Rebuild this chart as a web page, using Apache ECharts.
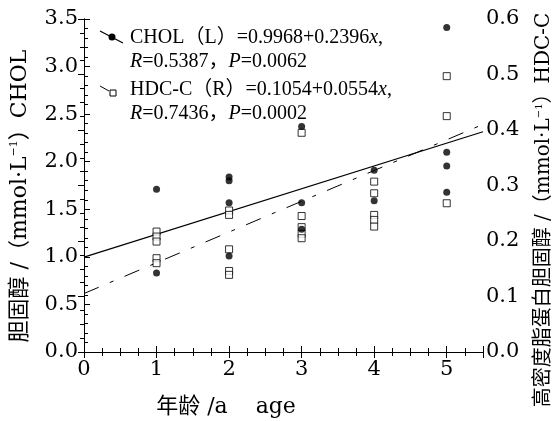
<!DOCTYPE html>
<html>
<head>
<meta charset="utf-8">
<script src="https://cdn.jsdelivr.net/npm/echarts@6/dist/echarts.min.js"></script>
<style>
  html, body { margin: 0; padding: 0; background: #fff; }
  #chart { width: 557px; height: 421px; }
</style>
</head>
<body>
<div id="chart"></div>
<script>
var serif = '"Liberation Serif", "Noto Sans CJK SC", serif';
var wide = '"DejaVu Serif", "Noto Sans CJK SC", serif';

// CHOL (left axis) - filled dots
var cholAge = [1, 1, 2, 2, 2, 2, 3, 3, 3, 4, 4, 5, 5, 5, 5];
var cholVal = [1.71, 0.83, 1.84, 1.80, 1.57, 1.01, 2.37, 1.57, 1.29, 1.91, 1.59, 3.41, 2.10, 1.955, 1.68];

// HDC-C (right axis) - open squares
var hdcAge = [1, 1, 1, 1, 1, 2, 2, 2, 2, 2, 3, 3, 3, 3, 3, 4, 4, 4, 4, 4, 5, 5, 5];
var hdcVal = [0.217, 0.208, 0.199, 0.169, 0.160,
              0.255, 0.247, 0.185, 0.146, 0.139,
              0.395, 0.245, 0.225, 0.213, 0.205,
              0.307, 0.286, 0.247, 0.238, 0.226,
              0.497, 0.425, 0.268];

// regression lines: y = a + b*x
var fitX = [0, 5.5];
var cholFit = [0.9968, 0.2396];
var hdcFit = [0.1054, 0.0554];

var xTicks = [0, 1, 2, 3, 4, 5];

function pairs(xs, ys) {
    var out = [];
    for (var i = 0; i < xs.length; i++) out.push([xs[i], ys[i]]);
    return out;
}
function fitLine(c) {
    return fitX.map(function (x) { return [x, c[0] + c[1] * x]; });
}

var axisCommon = {
    axisLine: { lineStyle: { color: '#000', width: 1 } },
    axisTick: { inside: true, length: 6, lineStyle: { color: '#000' } },
    minorTick: { show: true, length: 4, lineStyle: { color: '#000' } },
    splitLine: { show: false },
    axisLabel: { color: '#000', fontFamily: wide, fontSize: 21 }
};

function xAxisDef(pos, showLabel) {
    return Object.assign({}, axisCommon, {
        type: 'value', position: pos, min: 0, max: 5.5, interval: 1,
        minorTick: Object.assign({}, axisCommon.minorTick, { splitNumber: 4 }),
        axisLabel: Object.assign({}, axisCommon.axisLabel, {
            show: showLabel, margin: 7,
            formatter: function (v) { return xTicks.indexOf(v) >= 0 ? String(v) : ''; }
        })
    });
}

var italic = { fontStyle: 'italic', fontFamily: serif, fontSize: 20 };
var sup = { fontSize: 11, fontFamily: wide, verticalAlign: 'top' };

var chart = echarts.init(document.getElementById('chart'));
chart.setOption({
    backgroundColor: '#fff',
    animation: false,
    grid: { left: 84, right: 74, top: 19, bottom: 69 },
    xAxis: [xAxisDef('bottom', true), xAxisDef('top', false)],
    yAxis: [
        Object.assign({}, axisCommon, {
            type: 'value', position: 'left', min: 0, max: 3.5, interval: 0.5,
            minorTick: Object.assign({}, axisCommon.minorTick, { splitNumber: 5 }),
            axisLabel: Object.assign({}, axisCommon.axisLabel, {
                margin: 6, formatter: function (v) { return v.toFixed(1); }
            })
        }),
        Object.assign({}, axisCommon, {
            type: 'value', position: 'right', min: 0, max: 0.6, interval: 0.1,
            minorTick: Object.assign({}, axisCommon.minorTick, { splitNumber: 4 }),
            axisLabel: Object.assign({}, axisCommon.axisLabel, {
                margin: 3, formatter: function (v) { return v.toFixed(1); }
            })
        })
    ],
    series: [
        {
            type: 'line', xAxisIndex: 0, yAxisIndex: 0, data: fitLine(cholFit),
            showSymbol: false, lineStyle: { color: '#000', width: 1.2 }
        },
        {
            type: 'line', xAxisIndex: 0, yAxisIndex: 1, data: fitLine(hdcFit),
            showSymbol: false, lineStyle: { color: '#000', width: 1, type: [16, 12, 4, 12] }
        },
        {
            type: 'scatter', xAxisIndex: 0, yAxisIndex: 1, data: pairs(hdcAge, hdcVal),
            symbol: 'rect', symbolSize: 7, z: 3,
            itemStyle: { color: '#fff', borderColor: '#000', borderWidth: 1 }
        },
        {
            type: 'scatter', xAxisIndex: 0, yAxisIndex: 0, data: pairs(cholAge, cholVal),
            symbol: 'circle', symbolSize: 7, z: 4,
            itemStyle: { color: '#000' }
        }
    ],
    graphic: [
        // legend
        { type: 'line', shape: { x1: 100, y1: 31, x2: 123, y2: 43 }, style: { stroke: '#000', lineWidth: 1.2 } },
        { type: 'circle', shape: { cx: 112, cy: 37, r: 3.5 }, style: { fill: '#000' } },
        { type: 'line', shape: { x1: 100, y1: 86, x2: 109, y2: 91 }, style: { stroke: '#000', lineWidth: 1 } },
        { type: 'rect', shape: { x: 110, y: 90, width: 6, height: 6 }, style: { fill: '#fff', stroke: '#000', lineWidth: 1 } },
        {
            type: 'text', x: 130, y: 38,
            style: {
                text: 'CHOL（L）=0.9968+0.2396{i|x},', fill: '#000',
                font: '20px ' + serif, verticalAlign: 'middle', rich: { i: italic }
            }
        },
        {
            type: 'text', x: 130, y: 62,
            style: {
                text: '{i|R}=0.5387，{i|P}=0.0062', fill: '#000',
                font: '20px ' + serif, verticalAlign: 'middle', rich: { i: italic }
            }
        },
        {
            type: 'text', x: 130, y: 90,
            style: {
                text: 'HDC-C（R）=0.1054+0.0554{i|x},', fill: '#000',
                font: '20px ' + serif, verticalAlign: 'middle', rich: { i: italic }
            }
        },
        {
            type: 'text', x: 130, y: 114,
            style: {
                text: '{i|R}=0.7436，{i|P}=0.0002', fill: '#000',
                font: '20px ' + serif, verticalAlign: 'middle', rich: { i: italic }
            }
        },
        // axis titles
        {
            type: 'text', x: 20, y: 196, rotation: Math.PI / 2,
            style: {
                text: '胆固醇 /（mmol·L{s|−1}）CHOL', fill: '#000',
                font: '22px ' + wide, align: 'center', verticalAlign: 'middle',
                rich: { s: sup }
            }
        },
        {
            type: 'text', x: 544, y: 210, rotation: Math.PI / 2,
            style: {
                text: '高密度脂蛋白胆固醇 /（mmol·L{s|−1}）HDC-C', fill: '#000',
                font: '20px ' + wide, align: 'center', verticalAlign: 'middle',
                rich: { s: { fontSize: 10, fontFamily: wide, verticalAlign: 'top' } }
            }
        },
        {
            type: 'text', x: 226, y: 407,
            style: {
                text: '年龄 /a    age', fill: '#000',
                font: '22px ' + wide, align: 'center', verticalAlign: 'middle'
            }
        }
    ]
});
</script>
</body>
</html>
